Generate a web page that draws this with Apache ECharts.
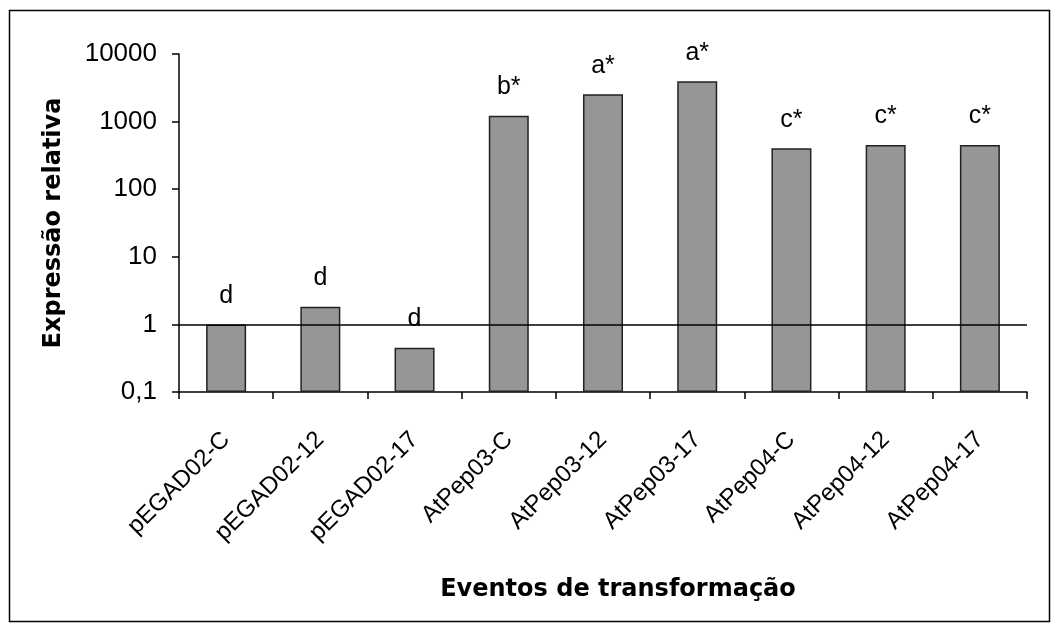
<!DOCTYPE html>
<html><head><meta charset="utf-8">
<script src="https://cdn.jsdelivr.net/npm/echarts@6/dist/echarts.min.js"></script>
<style>html,body{margin:0;padding:0;background:#fff}#c{width:1059px;height:632px}</style>
</head><body><div id="c"></div>
<script>
const categories = ['pEGAD02-C','pEGAD02-12','pEGAD02-17','AtPep03-C','AtPep03-12','AtPep03-17','AtPep04-C','AtPep04-12','AtPep04-17'];
const values = [1.0, 1.83, 0.45, 1220, 2540, 3950, 405, 450, 450];
const letters = ['d','d','d','b*','a*','a*','c*','c*','c*'];
const yTicks = [0.1, 1, 10, 100, 1000, 10000];
const yLabels = ['0,1','1','10','100','1000','10000'];

const chart = echarts.init(document.getElementById('c'), null, {renderer:'canvas'});
const font = 'Liberation Sans, Arial, sans-serif';
const boldFont = 'DejaVu Sans, Verdana, sans-serif';
chart.setOption({
  animation: false,
  backgroundColor: '#fff',
  graphic: [{type:'rect', shape:{x:9.5,y:10.5,width:1040,height:611}, style:{fill:'none', stroke:'#000', lineWidth:1.5}}],
  grid: {left:179, right:32, top:54, bottom:240},
  xAxis: {
    type:'category', data: categories,
    axisLine:{lineStyle:{color:'#000', width:1.5}},
    axisTick:{show:true, alignWithLabel:false, length:7, lineStyle:{color:'#000', width:1.5}},
    axisLabel:{rotate:45, margin:44, fontSize:24, color:'#000', fontFamily:font},
    name:'Eventos de transformação', nameLocation:'middle', nameGap:186,
    nameTextStyle:{fontSize:24, fontWeight:'bold', color:'#000', fontFamily:boldFont, padding:[0,0,0,30]}
  },
  yAxis: {
    type:'log', logBase:10, min:0.1, max:10000, startValue:0.1,
    axisLine:{show:true, lineStyle:{color:'#000', width:1.5}},
    axisTick:{show:true, length:7, lineStyle:{color:'#000', width:1.5}},
    splitLine:{show:false},
    axisLabel:{fontSize:26, color:'#000', fontFamily:font, margin:22,
      formatter:(v)=>{ const i = yTicks.findIndex(t=>Math.abs(Math.log10(t)-Math.log10(v))<1e-6); return i>=0 ? yLabels[i] : ''; }},
    name:'Expressão relativa', nameLocation:'middle', nameGap:113, nameRotate:90,
    nameTextStyle:{fontSize:24, fontWeight:'bold', color:'#000', fontFamily:boldFont}
  },
  series: [{
    type:'bar', data: values, barWidth:40,
    itemStyle:{color:'#969696', borderColor:'#222', borderWidth:1.5},
    label:{show:true, position:'top', distance:16, fontSize:25, color:'#000', fontFamily:font,
      formatter:(p)=>letters[p.dataIndex]},
    markLine:{silent:true, symbol:'none', label:{show:false},
      lineStyle:{color:'#000', width:1.5, type:'solid'}, data:[{yAxis:1}]}
  }]
});
</script></body></html>
